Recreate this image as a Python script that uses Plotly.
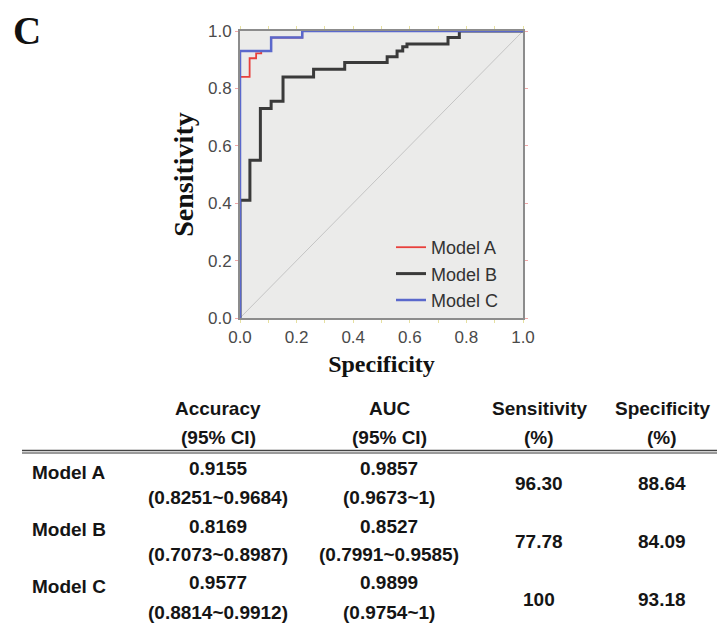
import plotly.graph_objects as go

# ROC operating points (false-positive rate, true-positive rate)
model_names = ["Model A", "Model B", "Model C"]
fpr_a = [0, 0, 0.034, 0.057, 0.075, 0.11, 0.22, 1.0]
tpr_a = [0, 0.84, 0.905, 0.922, 0.93, 0.977, 1.0, 1.0]
fpr_b = [0, 0, 0.035, 0.035, 0.072, 0.11, 0.152, 0.26, 0.37, 0.52, 0.555, 0.575, 0.59, 0.735, 0.775, 1.0]
tpr_b = [0, 0.41, 0.43, 0.55, 0.73, 0.755, 0.84, 0.867, 0.89, 0.91, 0.93, 0.945, 0.955, 0.977, 1.0, 1.0]
fpr_c = [0, 0, 0.11, 0.22, 1.0]
tpr_c = [0, 0.93, 0.977, 1.0, 1.0]
ref_line = [0, 1]

# Summary table
header_line1 = ["Accuracy", "AUC", "Sensitivity", "Specificity"]
header_line2 = ["(95% CI)", "(95% CI)", "(%)", "(%)"]
accuracy = ["0.9155", "0.8169", "0.9577"]
accuracy_ci = ["(0.8251~0.9684)", "(0.7073~0.8987)", "(0.8814~0.9912)"]
auc = ["0.9857", "0.8527", "0.9899"]
auc_ci = ["(0.9673~1)", "(0.7991~0.9585)", "(0.9754~1)"]
sensitivity = ["96.30", "77.78", "100"]
specificity = ["88.64", "84.09", "93.18"]

colors = ["#e8403c", "#3a3a3a", "#5a68cc"]
widths = [1.8, 3, 2.5]

W, H = 717, 629
ML, MR, MT, MB = 240, 194, 31, 311
PW, PH = W - ML - MR, H - MT - MB


def px2x(px):
    return (px - ML) / PW


def py2y(py):
    return (H - MB - py) / PH


fig = go.Figure()
fig.add_trace(go.Scatter(x=ref_line, y=ref_line, mode="lines",
                         line=dict(color="#c4c4c4", width=1),
                         showlegend=False, hoverinfo="skip", cliponaxis=False))
for name, fx, ty, c, w in zip(model_names, [fpr_a, fpr_b, fpr_c],
                              [tpr_a, tpr_b, tpr_c], colors, widths):
    fig.add_trace(go.Scatter(x=fx, y=ty, mode="lines", name=name,
                             line=dict(color=c, width=w, shape="hv"),
                             cliponaxis=False))

tick_font = dict(family="Liberation Sans, Arial, sans-serif", size=17, color="#4a4a4a")
title_font = dict(family="Liberation Serif, Times New Roman, serif", size=24, color="#111")

fig.update_xaxes(range=[0, 1], tickvals=[0, 0.2, 0.4, 0.6, 0.8, 1.0],
                 ticktext=["0.0", "0.2", "0.4", "0.6", "0.8", "1.0"],
                 ticks="outside", ticklen=3, tickcolor="#e6e0a0",
                 minor=dict(dtick=0.1, ticks="outside", ticklen=3, tickcolor="#e6e0a0"),
                 showline=True, linecolor="#8c8c8c", linewidth=2, mirror="ticks",
                 showgrid=False, zeroline=False, layer="below traces",
                 tickfont=tick_font,
                 title=dict(text="<b>Specificity</b>", font=title_font, standoff=9))
fig.update_yaxes(range=[0, 1], tickvals=[0, 0.2, 0.4, 0.6, 0.8, 1.0],
                 ticktext=["0.0", "0.2", "0.4", "0.6", "0.8", "1.0"],
                 ticks="outside", ticklen=3, tickcolor="#f2a8a8",
                 showline=True, linecolor="#8c8c8c", linewidth=2, mirror="ticks",
                 showgrid=False, zeroline=False, layer="below traces",
                 tickfont=tick_font,
                 title=dict(text="<b>Sensitivity</b>",
                            font=dict(title_font, size=28), standoff=6))

annotations = []
# panel letter
annotations.append(dict(x=px2x(27), y=py2y(30), xref="paper", yref="paper",
                        text="<b>C</b>", showarrow=False,
                        font=dict(family="Liberation Serif, Times New Roman, serif",
                                  size=39, color="#111"),
                        xanchor="center", yanchor="middle"))

tf = dict(family="Liberation Sans, Arial, sans-serif", size=19, color="#151515")
col_x = [218, 389, 539, 662]


def put(text, px, py, anchor="center"):
    annotations.append(dict(x=px2x(px), y=py2y(py), xref="paper", yref="paper",
                            text="<b>" + text + "</b>", showarrow=False, font=tf,
                            xanchor=anchor, yanchor="middle"))


for cx, h1, h2 in zip(col_x, header_line1, header_line2):
    put(h1, cx, 408)
    put(h2, cx, 437)

row_top = [468, 526, 582]
row_bot = [497, 554, 612]
row_mid = [483, 541, 599]
row_lab = [472, 529, 586]
for i, m in enumerate(model_names):
    put(m, 30, row_lab[i], anchor="left")
    put(accuracy[i], col_x[0], row_top[i])
    put(accuracy_ci[i], col_x[0], row_bot[i])
    put(auc[i], col_x[1], row_top[i])
    put(auc_ci[i], col_x[1], row_bot[i])
    put(sensitivity[i], col_x[2], row_mid[i])
    put(specificity[i], col_x[3], row_mid[i])

shapes = [
    dict(type="line", xref="paper", yref="paper", x0=px2x(22), x1=px2x(717),
         y0=py2y(450.5), y1=py2y(450.5), line=dict(color="#444", width=1.5)),
    dict(type="line", xref="paper", yref="paper", x0=px2x(22), x1=px2x(717),
         y0=py2y(453), y1=py2y(453), line=dict(color="#9a9a9a", width=2)),
]

fig.update_layout(
    width=W, height=H,
    margin=dict(l=ML, r=MR, t=MT, b=MB),
    paper_bgcolor="white", plot_bgcolor="#ebebea",
    font=dict(family="Liberation Sans, Arial, sans-serif"),
    legend=dict(x=px2x(391), y=py2y(229), xanchor="left", yanchor="top",
                bgcolor="rgba(0,0,0,0)", borderwidth=0,
                font=dict(family="Liberation Sans, Arial, sans-serif", size=18, color="#333"),
                tracegroupgap=0, itemwidth=30),
    annotations=annotations, shapes=shapes,
)

fig.write_html("out.html")
